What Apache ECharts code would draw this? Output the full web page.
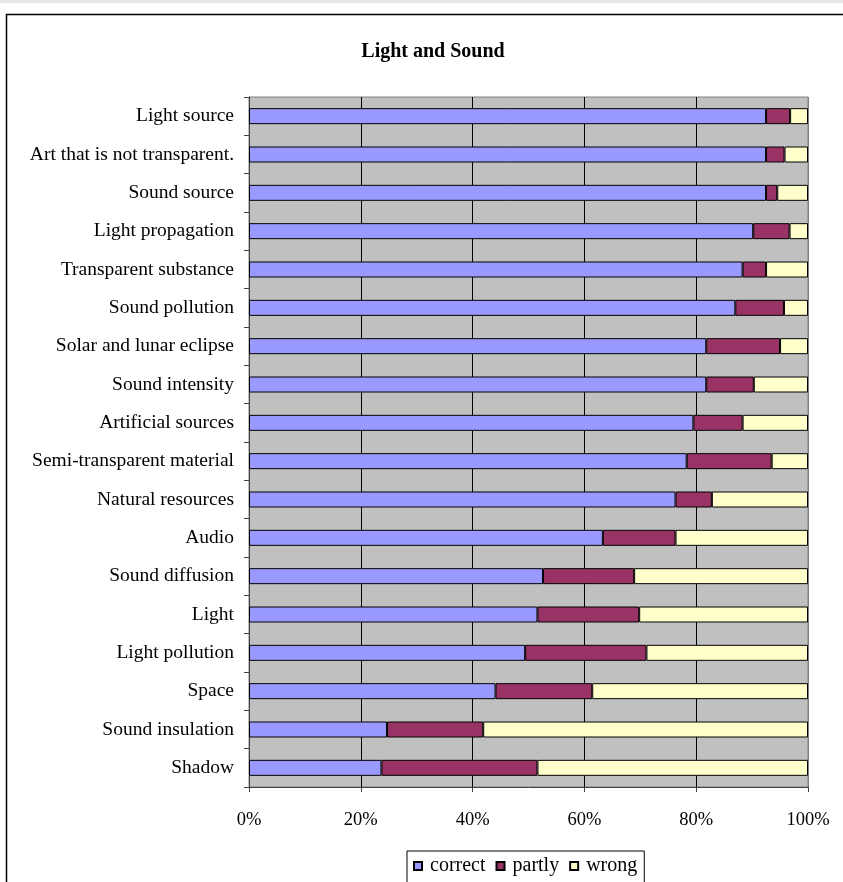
<!DOCTYPE html>
<html>
<head>
<meta charset="utf-8">
<script src="https://cdn.jsdelivr.net/npm/echarts@6/dist/echarts.min.js"></script>
<style>
  html, body { margin: 0; padding: 0; background: #fff; }
  #main { width: 843px; height: 882px; }
</style>
</head>
<body>
<div id="main"></div>
<script>
// categories top to bottom
var topics = ['Light source', 'Art that is not transparent.', 'Sound source', 'Light propagation',
  'Transparent substance', 'Sound pollution', 'Solar and lunar eclipse', 'Sound intensity',
  'Artificial sources', 'Semi-transparent material', 'Natural resources', 'Audio',
  'Sound diffusion', 'Light', 'Light pollution', 'Space', 'Sound insulation', 'Shadow'];

// shares in percent
var correct = [92.5, 92.5, 92.5, 90.2, 88.3, 87.0, 81.8, 81.8, 79.5, 78.3, 76.3, 63.3, 52.6, 51.6, 49.4, 44.1, 24.7, 23.7];
var partly  = [4.3, 3.3, 2.0, 6.5, 4.2, 8.7, 13.2, 8.5, 8.8, 15.2, 6.5, 13.0, 16.3, 18.2, 21.7, 17.3, 17.2, 27.9];
var wrong   = [3.2, 4.2, 5.5, 3.3, 7.5, 4.3, 5.0, 9.7, 11.7, 6.5, 17.2, 23.7, 31.1, 30.2, 28.9, 38.6, 58.1, 48.4];

var xTicks = [0, 20, 40, 60, 80, 100];

var serif = '"Liberation Serif", "Times New Roman", serif';

var myChart = echarts.init(document.getElementById('main'));

function bar(name, data, color) {
    return {
        name: name,
        type: 'bar',
        stack: 'all',
        data: data,
        barWidth: 16,
        itemStyle: { color: color, borderColor: '#000', borderWidth: 1 },
        emphasis: { disabled: true }
    };
}

myChart.setOption({
    animation: false,
    textStyle: { fontFamily: serif },
    title: {
        text: 'Light and Sound',
        left: 428,
        textAlign: 'center',
        top: 37,
        textStyle: { fontFamily: serif, fontSize: 20, fontWeight: 'bold', color: '#000' }
    },
    graphic: [
        { type: 'rect', shape: { x: 0, y: 0, width: 843, height: 3 }, style: { fill: '#e6e6e6' }, silent: true },
        { type: 'rect', shape: { x: 6.5, y: 14.5, width: 900, height: 900 }, style: { fill: 'none', stroke: '#000', lineWidth: 1.5 }, silent: true }
    ],
    legend: {
        data: ['correct', 'partly', 'wrong'],
        left: 407,
        top: 851,
        orient: 'horizontal',
        icon: 'rect',
        itemWidth: 8,
        itemHeight: 8,
        itemGap: 10,
        borderColor: '#000',
        borderWidth: 1,
        borderRadius: 0,
        padding: [5, 7, 14, 6],
        textStyle: { fontFamily: serif, fontSize: 20, color: '#000', padding: [0, 0, 0, 3] }
    },
    grid: {
        left: 249,
        right: 35,
        top: 97,
        bottom: 95,
        show: true,
        backgroundColor: '#c0c0c0',
        borderColor: '#808080',
        borderWidth: 1
    },
    xAxis: {
        type: 'value',
        min: xTicks[0],
        max: xTicks[xTicks.length - 1],
        interval: 20,
        axisLine: { show: true, lineStyle: { color: '#404040', width: 1 } },
        axisTick: { show: true, length: 5, inside: false, lineStyle: { color: '#404040' } },
        axisLabel: { formatter: '{value}%', fontFamily: serif, fontSize: 18.5, color: '#000', margin: 24 },
        splitLine: { show: true, lineStyle: { color: ['#000', '#000', '#000', '#000', '#000', '#808080'], width: 1 } }
    },
    yAxis: {
        type: 'category',
        data: topics,
        inverse: true,
        axisLine: { show: true, lineStyle: { color: '#404040', width: 1 } },
        axisTick: { show: true, length: 5, lineStyle: { color: '#404040' } },
        axisLabel: { fontFamily: serif, fontSize: 19.5, color: '#000', margin: 15, padding: [3, 0, 0, 0] },
        splitLine: { show: false }
    },
    series: [
        bar('correct', correct, '#9999ff'),
        bar('partly', partly, '#993366'),
        bar('wrong', wrong, '#ffffcc')
    ]
});
</script>
</body>
</html>
